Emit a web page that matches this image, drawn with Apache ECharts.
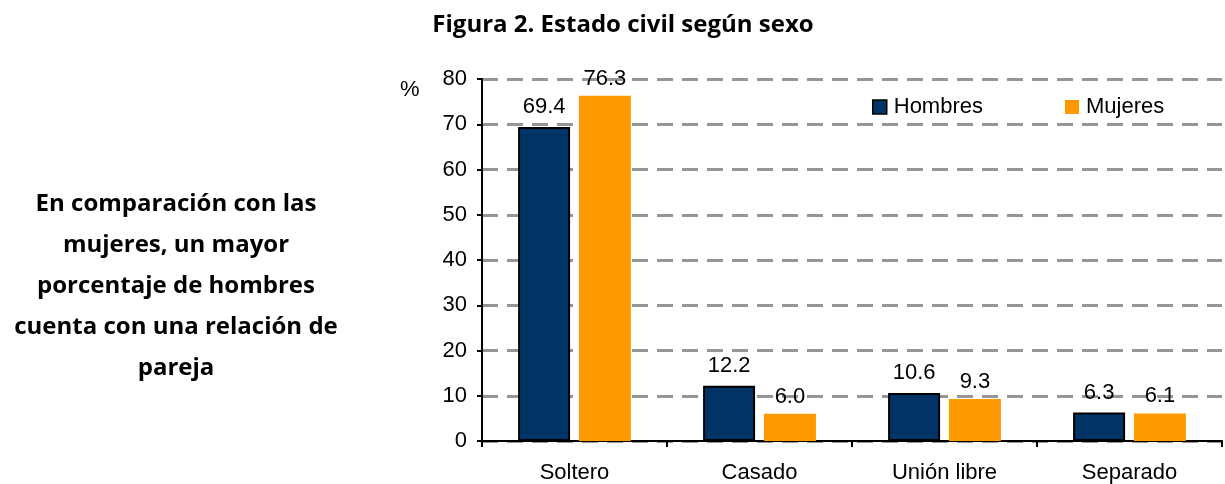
<!DOCTYPE html>
<html><head><meta charset="utf-8">
<script src="https://cdn.jsdelivr.net/npm/echarts@6/dist/echarts.min.js"></script>
<style>html,body{margin:0;padding:0;background:#fff}#c{width:1225px;height:484px}</style>
</head><body><div id="c"></div>
<script>
const categories = ['Soltero', 'Casado', 'Unión libre', 'Separado'];
const hombres = [69.4, 12.2, 10.6, 6.3];
const mujeres = [76.3, 6.0, 9.3, 6.1];
const yTicks = [0, 10, 20, 30, 40, 50, 60, 70, 80];

const chart = echarts.init(document.getElementById('c'));
const lblFont = { fontFamily: 'Liberation Sans, Arial, sans-serif', fontSize: 22, color: '#000' };
chart.setOption({
  animation: false,
  title: {
    text: 'Figura 2. Estado civil según sexo',
    left: 618, top: 8, textAlign: 'center',
    textStyle: { fontFamily: 'Open Sans, sans-serif', fontWeight: 'bold', fontSize: 24, color: '#000' }
  },
  graphic: [
    { type: 'text', left: 400, top: 79, style: { text: '%', font: '22px "Liberation Sans", Arial, sans-serif', fill: '#000' } },
    { type: 'text', x: 176, y: 184, style: {
      text: 'En comparación con las\nmujeres, un mayor\nporcentaje de hombres\ncuenta con una relación de\npareja',
      font: 'bold 24px "Open Sans", sans-serif', fill: '#000', align: 'center', lineHeight: 41 } }
  ],
  legend: {
    left: 872, top: 96, padding: 0, itemWidth: 14, itemHeight: 14, itemGap: 82,
    icon: 'rect',
    textStyle: Object.assign({}, lblFont, { padding: [0, 0, 0, 2] }),
    data: [
      { name: 'Hombres', itemStyle: { color: '#003466', borderColor: '#000', borderWidth: 1.5 } },
      { name: 'Mujeres', itemStyle: { color: '#FF9900' } }
    ]
  },
  grid: { left: 482, right: 3, top: 79, bottom: 43, containLabel: false },
  xAxis: {
    type: 'category', data: categories,
    axisLine: { lineStyle: { color: '#000', width: 2 } },
    axisTick: { show: true, length: 6, lineStyle: { color: '#000', width: 2 } },
    axisLabel: Object.assign({}, lblFont, { margin: 21 })
  },
  yAxis: {
    type: 'value', min: 0, max: 80, interval: 10,
    axisLine: { show: true, lineStyle: { color: '#000', width: 2 } },
    axisTick: { show: true, length: 5, lineStyle: { color: '#000', width: 2 } },
    axisLabel: Object.assign({}, lblFont, { margin: 15, formatter: v => yTicks.includes(v) ? String(v) : '' }),
    splitLine: { show: true, lineStyle: { color: '#969696', width: 3, type: [16, 9] } }
  },
  series: [
    {
      name: 'Hombres', type: 'bar', data: hombres, barWidth: 52, barGap: '17%',
      itemStyle: { color: '#003466', borderColor: '#000', borderWidth: 2 },
      label: Object.assign({ show: true, position: 'top', distance: 9, formatter: p => p.value.toFixed(1) }, lblFont)
    },
    {
      name: 'Mujeres', type: 'bar', data: mujeres, barWidth: 52,
      itemStyle: { color: '#FF9900' },
      label: Object.assign({ show: true, position: 'top', distance: 6, formatter: p => p.value.toFixed(1) }, lblFont)
    }
  ]
});
</script></body></html>
